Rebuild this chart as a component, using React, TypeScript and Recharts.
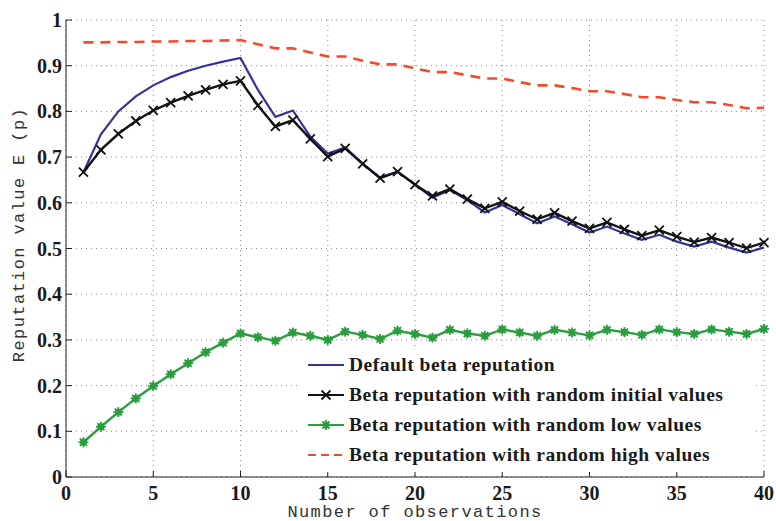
import { LineChart, Line, XAxis, YAxis, CartesianGrid, Legend, Label } from 'recharts';

// number of observations
const observations = [
  1, 2, 3, 4, 5, 6, 7, 8, 9, 10, 11, 12, 13, 14, 15, 16, 17, 18, 19, 20,
  21, 22, 23, 24, 25, 26, 27, 28, 29, 30, 31, 32, 33, 34, 35, 36, 37, 38, 39, 40,
];

const defaultBeta = [
  0.667, 0.75, 0.8, 0.833, 0.857, 0.875, 0.889, 0.9, 0.909, 0.917,
  0.847, 0.788, 0.802, 0.745, 0.708, 0.721, 0.686, 0.655, 0.668, 0.64,
  0.611, 0.628, 0.606, 0.579, 0.595, 0.575, 0.555, 0.57, 0.553, 0.535,
  0.548, 0.533, 0.519, 0.53, 0.515, 0.504, 0.515, 0.502, 0.491, 0.502,
];

const randomInitial = [
  0.667, 0.716, 0.751, 0.779, 0.802, 0.819, 0.834, 0.847, 0.859, 0.867,
  0.813, 0.767, 0.781, 0.74, 0.701, 0.719, 0.685, 0.654, 0.668, 0.64,
  0.615, 0.63, 0.608, 0.588, 0.602, 0.582, 0.564, 0.578, 0.56, 0.544,
  0.557, 0.542, 0.528, 0.54, 0.526, 0.514, 0.524, 0.513, 0.501, 0.513,
];

const randomLow = [
  0.076, 0.11, 0.142, 0.172, 0.199, 0.225, 0.249, 0.273, 0.294, 0.314,
  0.306, 0.298, 0.316, 0.309, 0.3, 0.318, 0.311, 0.302, 0.32, 0.313,
  0.305, 0.322, 0.314, 0.309, 0.323, 0.316, 0.309, 0.322, 0.316, 0.31,
  0.322, 0.317, 0.311, 0.323, 0.317, 0.313, 0.323, 0.318, 0.313, 0.324,
];

const randomHigh = [
  0.951, 0.951, 0.952, 0.952, 0.953, 0.953, 0.954, 0.954, 0.955, 0.956,
  0.947, 0.938, 0.938, 0.929, 0.92, 0.92, 0.911, 0.903, 0.903, 0.894,
  0.886, 0.886, 0.879, 0.872, 0.872, 0.864, 0.857, 0.857, 0.851, 0.844,
  0.844, 0.838, 0.831, 0.831, 0.825, 0.82, 0.82, 0.814, 0.807, 0.808,
];

const xTicks = [0, 5, 10, 15, 20, 25, 30, 35, 40];
const yTicks = [0, 0.1, 0.2, 0.3, 0.4, 0.5, 0.6, 0.7, 0.8, 0.9, 1];

const data = observations.map((n, i) => ({
  n,
  defaultBeta: defaultBeta[i],
  randomInitial: randomInitial[i],
  randomLow: randomLow[i],
  randomHigh: randomHigh[i],
}));

const BLUE = '#34339b';
const BLACK = '#111111';
const GREEN = '#2b9e3f';
const RED = '#f34b27';

const TICK_FONT = { fontFamily: '"Liberation Serif", serif', fontWeight: 700, fontSize: 20, fill: '#1a1a1a' };
const TITLE_FONT = { fontFamily: '"Liberation Mono", monospace', fontSize: 17, letterSpacing: 1.4, fill: '#333' };

const CrossDot = (props: any) => {
  const { cx, cy } = props;
  if (cx == null || cy == null) return null;
  const s = 4.5;
  return (
    <g stroke={BLACK} strokeWidth={1.8}>
      <line x1={cx - s} y1={cy - s} x2={cx + s} y2={cy + s} />
      <line x1={cx - s} y1={cy + s} x2={cx + s} y2={cy - s} />
    </g>
  );
};

const StarDot = (props: any) => {
  const { cx, cy } = props;
  if (cx == null || cy == null) return null;
  const s = 5;
  const d = 3.6;
  return (
    <g stroke={GREEN} strokeWidth={1.8}>
      <circle cx={cx} cy={cy} r={3.4} fill={GREEN} stroke="none" />
      <line x1={cx - s} y1={cy} x2={cx + s} y2={cy} />
      <line x1={cx} y1={cy - s} x2={cx} y2={cy + s} />
      <line x1={cx - d} y1={cy - d} x2={cx + d} y2={cy + d} />
      <line x1={cx - d} y1={cy + d} x2={cx + d} y2={cy - d} />
    </g>
  );
};

const X_MARGIN = 8;
const Y_MARGIN = 4;

// labels below the axis, tick marks pointing into the plot
const XTick = (props: any) => {
  const { x, y, payload } = props;
  const axisY = y - X_MARGIN;
  return (
    <g>
      <line x1={x} y1={axisY} x2={x} y2={axisY - 6} stroke="#222" />
      <text x={x} y={y} dy={15} textAnchor="middle" {...TICK_FONT}>
        {payload.value}
      </text>
    </g>
  );
};

const YTick = (props: any) => {
  const { x, y, payload } = props;
  const axisX = x + Y_MARGIN;
  return (
    <g>
      <line x1={axisX} y1={y} x2={axisX + 6} y2={y} stroke="#222" />
      <text x={x} y={y} dy={7} textAnchor="end" {...TICK_FONT}>
        {String(Math.round(payload.value * 10) / 10)}
      </text>
    </g>
  );
};

const legendItems = [
  { label: 'Default beta reputation', color: BLUE, marker: null, dash: undefined },
  { label: 'Beta reputation with random initial values', color: BLACK, marker: 'cross', dash: undefined },
  { label: 'Beta reputation with random low values', color: GREEN, marker: 'star', dash: undefined },
  { label: 'Beta reputation with random high values', color: RED, marker: null, dash: '8 5' },
];

const LegendBox = () => (
  <div style={{ background: '#fff', width: 455, padding: '2px 0' }}>
    {legendItems.map((item) => (
      <div key={item.label} style={{ display: 'flex', alignItems: 'center', height: 30 }}>
        <svg width={43} height={14} style={{ marginLeft: 6 }}>
          <line x1={2} y1={7} x2={38} y2={7} stroke={item.color} strokeWidth={2.2} strokeDasharray={item.dash} />
          {item.marker === 'cross' && <CrossDot cx={20} cy={7} />}
          {item.marker === 'star' && <StarDot cx={20} cy={7} />}
        </svg>
        <span
          style={{
            fontFamily: '"Liberation Serif", serif',
            fontWeight: 700,
            fontSize: 19.5,
            letterSpacing: 0.5,
            color: '#1a1a1a',
            whiteSpace: 'nowrap',
          }}
        >
          {item.label}
        </span>
      </div>
    ))}
  </div>
);

export default function App() {
  return (
    <div style={{ position: 'absolute', left: 0, top: 0, width: 776, height: 521, background: '#fff' }}>
      <LineChart width={776} height={521} data={data} margin={{ top: 20, right: 12, left: 0, bottom: 0 }}>
        <CartesianGrid stroke="#8a8a8a" strokeDasharray="1 4" />
        <XAxis
          dataKey="n"
          type="number"
          domain={[0, 40]}
          ticks={xTicks}
          height={44}
          tickSize={0}
          tickMargin={X_MARGIN}
          tickLine={false}
          axisLine={{ stroke: '#222' }}
          tick={<XTick />}
        >
          <Label
            content={(p: any) => {
              const vb = p.viewBox;
              return (
                <text x={vb.x + vb.width / 2} y={vb.y + vb.height - 4} textAnchor="middle" {...TITLE_FONT}>
                  Number of observations
                </text>
              );
            }}
          />
        </XAxis>
        <YAxis
          type="number"
          domain={[0, 1]}
          ticks={yTicks}
          width={66}
          tickSize={0}
          tickMargin={Y_MARGIN}
          tickLine={false}
          axisLine={{ stroke: '#222' }}
          tick={<YTick />}
          interval={0}
        >
          <Label
            content={(p: any) => {
              const vb = p.viewBox;
              const cx = vb.x + 19;
              const cy = vb.y + vb.height / 2 - 14;
              return (
                <text
                  x={cx}
                  y={cy}
                  textAnchor="middle"
                  dominantBaseline="central"
                  transform={`rotate(-90 ${cx} ${cy})`}
                  {...TITLE_FONT}
                >
                  Reputation value E (p)
                </text>
              );
            }}
          />
        </YAxis>
        <Legend
          layout="vertical"
          align="center"
          verticalAlign="middle"
          wrapperStyle={{ left: 300, top: 348, width: 455 }}
          content={() => <LegendBox />}
        />
        <Line
          type="linear"
          dataKey="randomHigh"
          stroke={RED}
          strokeWidth={2.6}
          strokeDasharray="10 7"
          dot={false}
          isAnimationActive={false}
        />
        <Line type="linear" dataKey="defaultBeta" stroke={BLUE} strokeWidth={2.2} dot={false} isAnimationActive={false} />
        <Line
          type="linear"
          dataKey="randomInitial"
          stroke={BLACK}
          strokeWidth={2.4}
          dot={<CrossDot />}
          isAnimationActive={false}
        />
        <Line
          type="linear"
          dataKey="randomLow"
          stroke={GREEN}
          strokeWidth={2.4}
          dot={<StarDot />}
          isAnimationActive={false}
        />
      </LineChart>
    </div>
  );
}
